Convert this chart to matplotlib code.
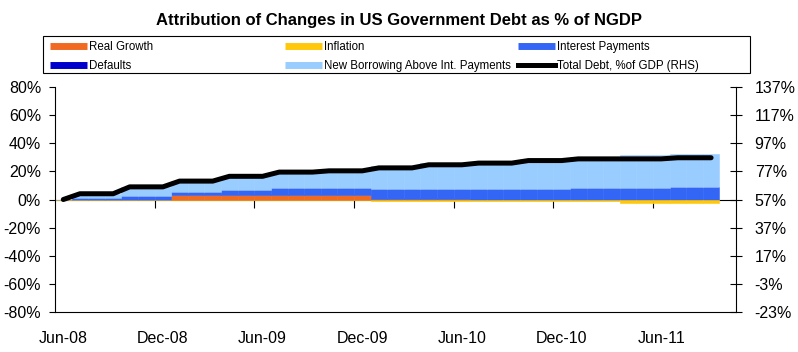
import numpy as np
import matplotlib
matplotlib.use("Agg")
import matplotlib.pyplot as plt
from matplotlib.lines import Line2D
from matplotlib.patches import Rectangle
from matplotlib.ticker import FuncFormatter

plt.rcParams['font.family'] = ['Liberation Sans', 'DejaVu Sans']

# monthly, Jun-08 .. Sep-11, cumulative change in debt / NGDP (percentage points)
real_growth = [0, 0, 0, 0, 0, 0, 0,
               3.3, 3.3, 3.3, 3.3, 3.3, 3.3, 3.3, 3.3, 3.3, 3.3, 3.3, 3.3,
               0.5, 0.5, 0.5, 0.5, 0.5, 0.5,
               0, 0, 0, 0, 0, 0, 0, 0, 0, 0, 0, 0, 0, 0, 0]
inflation = [0, 0, 0, 0, 0, 0, 0, 0, 0, 0, 0, 0, 0, 0, 0, 0, 0, 0, 0,
             -1.2, -1.2, -1.2, -1.2, -1.2, -1.2,
             -0.8, -0.8, -0.8, -0.8, -0.8, -0.8,
             -1.0, -1.0, -1.0,
             -2.5, -2.5, -2.5, -2.5, -2.5, -2.5]
interest = [0, 1.0, 1.0, 1.0, 2.8, 2.8, 2.8, 2.3, 2.3, 2.3, 3.4, 3.4, 3.4,
            4.7, 4.7, 4.7, 4.7, 4.7, 4.7,
            6.7, 6.7, 6.7, 6.7, 6.7, 6.7,
            7.2, 7.2, 7.2, 7.2, 7.2, 7.2,
            8.2, 8.2, 8.2, 8.2, 8.2, 8.2,
            9.0, 9.0, 9.0]
defaults = [0, 0, 0, 0, 0, 0, 0, 0, 0, 0, 0, 0, 0, 0, 0, 0, 0, 0, 0, 0,
            0, 0, 0, 0, 0, 0, 0, 0, 0, 0, 0, 0, 0, 0, 0, 0, 0, 0, 0, 0]
new_borrowing = [0, 3.1, 3.1, 3.1, 6.2, 6.2, 6.2, 7.5, 7.5, 7.5,
                 9.8, 9.8, 9.8, 11.5, 11.5, 11.5, 12.4, 12.4, 12.4,
                 16.5, 16.5, 16.5, 18.7, 18.7, 18.7,
                 19.5, 19.5, 19.5, 21.3, 21.3, 21.3,
                 21.7, 21.7, 21.7, 23.2, 23.2, 23.2, 23.2, 23.2, 23.2]
total_debt = [57.0, 61.1, 61.1, 61.1, 66.0, 66.0, 66.0, 70.1, 70.1, 70.1,
              73.5, 73.5, 73.5, 76.5, 76.5, 76.5, 77.4, 77.4, 77.4,
              79.5, 79.5, 79.5, 81.7, 81.7, 81.7, 82.9, 82.9, 82.9,
              84.7, 84.7, 84.7, 85.9, 85.9, 85.9, 85.9, 85.9, 85.9,
              86.7, 86.7, 86.7]
tick_labels = ['Jun-08', 'Dec-08', 'Jun-09', 'Dec-09', 'Jun-10', 'Dec-10', 'Jun-11']

c_rg = '#F06A22'
c_inf = '#FFC80A'
c_int = '#3366F5'
c_def = '#0000CC'
c_nb = '#99CCFF'

x = np.arange(len(total_debt))
rg = np.array(real_growth)
ip = np.array(interest)
df = np.array(defaults)
nb = np.array(new_borrowing)

fig = plt.figure(figsize=(7.98, 3.52), dpi=100)
ax = fig.add_subplot(111)
fig.subplots_adjust(left=0.0689, right=0.9223, bottom=0.1136, top=0.7528)

kw = dict(width=1.0, linewidth=0.4)
ax.bar(x, rg, color=c_rg, edgecolor=c_rg, **kw)
ax.bar(x, ip, bottom=rg, color=c_int, edgecolor=c_int, **kw)
ax.bar(x, df, bottom=rg + ip, color=c_def, edgecolor=c_def, **kw)
ax.bar(x, nb, bottom=rg + ip + df, color=c_nb, edgecolor=c_nb, **kw)
ax.bar(x, inflation, color=c_inf, edgecolor=c_inf, **kw)

ax.set_xlim(-0.5, len(x) + 0.5)
ax.set_ylim(-80, 80)
ax.set_yticks(np.arange(-80, 81, 20))
ax.yaxis.set_major_formatter(FuncFormatter(lambda v, p: '%d%%' % v))
for s in ['top', 'right']:
    ax.spines[s].set_visible(False)
ax.spines['left'].set_linewidth(0.8)
ax.spines['bottom'].set_linewidth(0.8)
ax.tick_params(axis='y', direction='out', length=4, width=0.8, labelsize=11.5, pad=6)
ax.set_xticks(x[::6][:len(tick_labels)])
ax.set_xticklabels(tick_labels)
ax.tick_params(axis='x', length=0, pad=14, labelsize=11.5)

# zero line with the category tick marks
zero = ax.secondary_xaxis(0.5)
zero.xaxis.set_ticks_position('bottom')
zero.set_xticks(np.arange(5.5, 36, 6))
zero.set_xticklabels([])
zero.tick_params(direction='out', length=6, width=0.8, labelbottom=False, labeltop=False)
zero.spines['bottom'].set_linewidth(0.8)

ax2 = ax.twinx()
ax2.plot(x, total_debt, color='black', lw=3.6, solid_joinstyle='round', solid_capstyle='round')
ax2.set_ylim(-23, 137)
ax2.set_yticks(np.arange(-23, 138, 20))
ax2.yaxis.set_major_formatter(FuncFormatter(lambda v, p: '%d%%' % v))
for s in ['top', 'left', 'bottom']:
    ax2.spines[s].set_visible(False)
ax2.spines['right'].set_linewidth(0.8)
ax2.tick_params(axis='y', direction='inout', length=9, width=0.8, labelsize=11.5, pad=9)

fig.text(0.5, 1 - 21 / 352, 'Attribution of Changes in US Government Debt as % of NGDP',
         ha='center', va='center', fontsize=12, fontweight='bold')

# legend: three columns inside one box
def patch(c):
    return Line2D([], [], color=c, lw=5, solid_capstyle='butt')

columns = [
    (50, [patch(c_rg), patch(c_def)], ['Real Growth', 'Defaults']),
    (285, [patch(c_inf), patch(c_nb)], ['Inflation', 'New Borrowing Above Int. Payments']),
    (518, [patch(c_int), Line2D([], [], color='black', lw=3.6)],
     ['Interest Payments', 'Total Debt, %of GDP (RHS)']),
]
for xpos, hs, ls in columns:
    fig.legend(hs, ls, loc='upper left', bbox_to_anchor=(xpos / 798, 1 - 41 / 352),
               frameon=False, borderpad=0, borderaxespad=0, fontsize=8.3,
               handlelength=3.2, handletextpad=0.2, labelspacing=0.6)
fig.add_artist(Rectangle((43 / 798, 1 - 73 / 352), 707 / 798, 37 / 352,
                         transform=fig.transFigure, fill=False, ec='black', lw=0.8))

fig.savefig('out.png', dpi=100)
